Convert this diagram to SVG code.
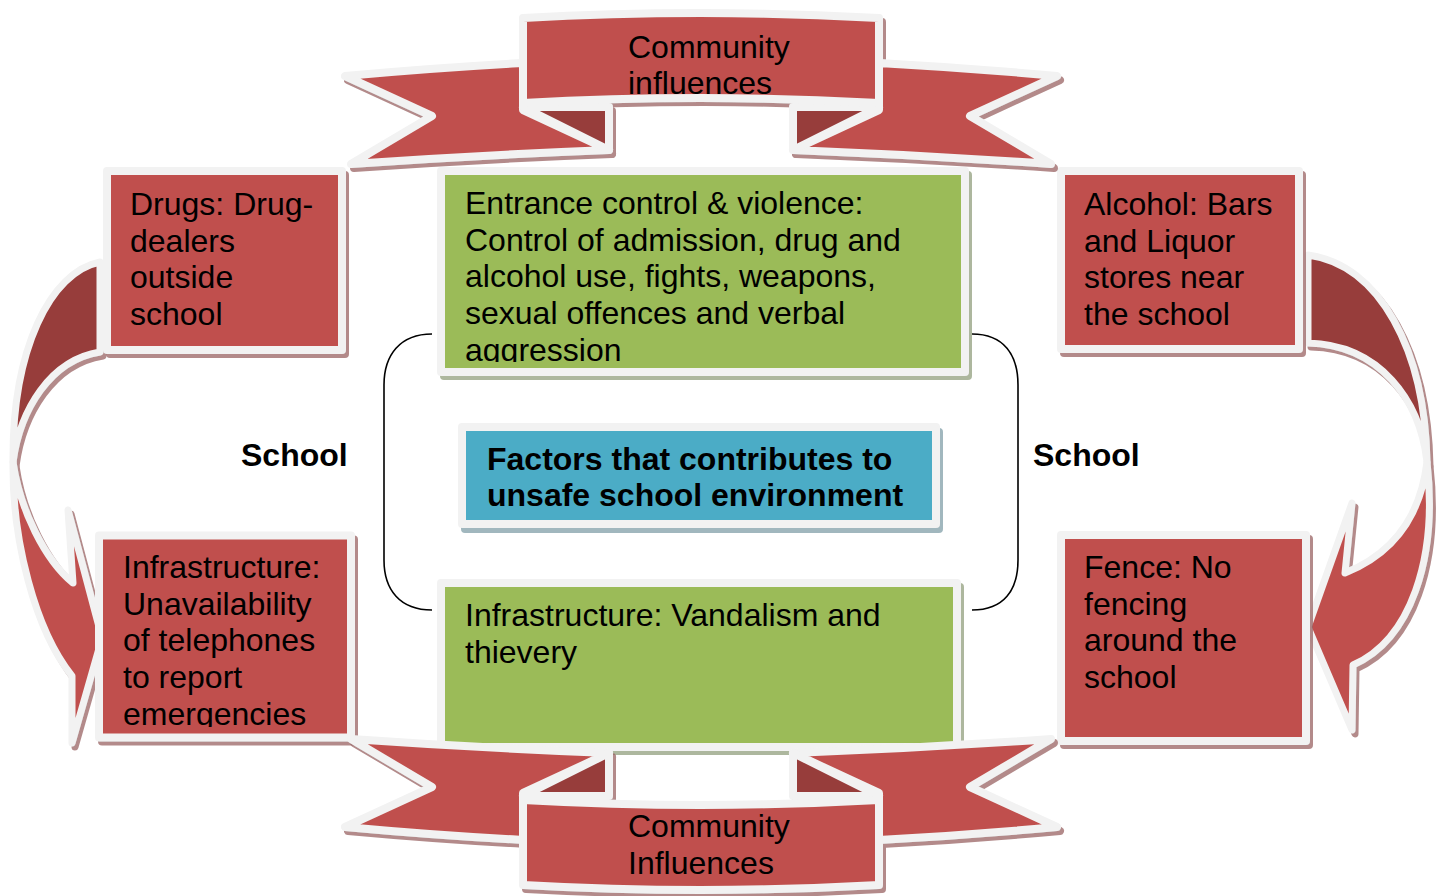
<svg xmlns="http://www.w3.org/2000/svg" xmlns:xlink="http://www.w3.org/1999/xlink" width="1443" height="896" viewBox="0 0 1443 896">
<style>
 .t{font-family:"Liberation Sans",Arial,sans-serif;font-size:32px;fill:#000}
 .b{font-weight:bold}
 .red{fill:#C0504D}
 .dark{fill:#973C3A}
 .green{fill:#9BBB59}
 .blue{fill:#4BACC6}
 .frame{stroke:#F2F2F2;stroke-width:8;stroke-linejoin:round}
 .aframe{stroke:#F2F2F2;stroke-width:7;stroke-linejoin:round}
 .br{fill:none;stroke:#000;stroke-width:1.6}
</style>
<defs>
 <filter id="shR" x="-10%" y="-10%" width="130%" height="130%"><feDropShadow dx="3" dy="4" stdDeviation="0.6" flood-color="#9A6363" flood-opacity="0.75"/></filter>
 <filter id="shG" x="-10%" y="-10%" width="130%" height="130%"><feDropShadow dx="3" dy="4" stdDeviation="0.6" flood-color="#98A585" flood-opacity="0.8"/></filter>
 <filter id="shB" x="-10%" y="-10%" width="130%" height="130%"><feDropShadow dx="3" dy="5" stdDeviation="0.6" flood-color="#89A5AE" flood-opacity="0.8"/></filter>
 <clipPath id="clipEntr"><rect x="445" y="175" width="516" height="187"/></clipPath>
 <clipPath id="clipInfL"><rect x="103" y="539" width="244" height="188"/></clipPath>
 <g id="rib">
  <path class="red frame" d="M345,76 Q432,68 523,63 L523,110 L609,150 Q480,155 351,164 L432,116 Z"/>
  <path class="dark frame" d="M523,107 L609,107 L609,150 Z"/>
  <path class="red frame" d="M1057,76 Q970,68 879,63 L879,110 L793,150 Q922,155 1051,164 L970,116 Z"/>
  <path class="dark frame" d="M879,107 L793,107 L793,150 Z"/>
  <path class="red frame" d="M523,18 Q701,8 879,18 L879,103 Q701,93 523,103 Z"/>
 </g>
</defs>
<rect width="1443" height="896" fill="#fff"/>

<g id="connectors">
 <g filter="url(#shR)">
  <path class="dark aframe" d="M100,262 C50,272 12,350 13,462 C20,410 50,360 100,352 Z"/>
  <path class="red aframe" d="M13,462 C12,540 35,630 72,676 L72,743 L102,638 L68,510 L73,583 C45,560 20,510 13,462 Z"/>
  <path class="dark aframe" d="M1308,255 C1380,265 1425,350 1427,462 C1420,400 1380,345 1308,343 Z"/>
  <path class="red aframe" d="M1427,462 C1438,560 1410,640 1353,665 L1352,730 L1308,627 L1352,503 L1345,573 C1390,555 1420,520 1427,462 Z"/>
 </g>
 <path class="br" d="M432,334 C400,334 384,355 384,385 L384,560 C384,590 400,610 432,610"/>
 <path class="br" d="M972,334 C1004,334 1018,355 1018,385 L1018,560 C1018,590 1004,610 972,610"/>
</g>

<g id="school-left"><text class="t b" x="241" y="466">School</text></g>
<g id="school-right"><text class="t b" x="1033" y="466">School</text></g>

<g id="drugs">
 <rect class="red frame" x="107" y="171" width="235" height="179" filter="url(#shR)"/>
 <text class="t" x="130" y="215">Drugs: Drug-</text>
 <text class="t" x="130" y="251.7">dealers</text>
 <text class="t" x="130" y="288.4">outside</text>
 <text class="t" x="130" y="325.1">school</text>
</g>

<g id="alcohol">
 <rect class="red frame" x="1061" y="171" width="238" height="178" filter="url(#shR)"/>
 <text class="t" x="1084" y="215">Alcohol: Bars</text>
 <text class="t" x="1084" y="251.7">and Liquor</text>
 <text class="t" x="1084" y="288.4">stores near</text>
 <text class="t" x="1084" y="325.1">the school</text>
</g>

<g id="fence">
 <rect class="red frame" x="1061" y="535" width="245" height="206" filter="url(#shR)"/>
 <text class="t" x="1084" y="578">Fence: No</text>
 <text class="t" x="1084" y="614.7">fencing</text>
 <text class="t" x="1084" y="651.4">around the</text>
 <text class="t" x="1084" y="688.1">school</text>
</g>

<g id="infra-left">
 <rect class="red frame" x="99" y="535.5" width="252" height="202" filter="url(#shR)"/>
 <g clip-path="url(#clipInfL)">
  <text class="t" x="123" y="578">Infrastructure:</text>
  <text class="t" x="123" y="614.7">Unavailability</text>
  <text class="t" x="123" y="651.4">of telephones</text>
  <text class="t" x="123" y="688.1">to report</text>
  <text class="t" x="123" y="724.8">emergencies</text>
 </g>
</g>

<g id="entrance">
 <rect class="green frame" x="441" y="171" width="524" height="201" filter="url(#shG)"/>
 <g clip-path="url(#clipEntr)">
  <text class="t" x="465" y="214">Entrance control &amp; violence:</text>
  <text class="t" x="465" y="250.7">Control of admission, drug and</text>
  <text class="t" x="465" y="287.4">alcohol use, fights, weapons,</text>
  <text class="t" x="465" y="324.1">sexual offences and verbal</text>
  <text class="t" x="465" y="360.8">aggression</text>
 </g>
</g>

<g id="infra-center">
 <rect class="green frame" x="441" y="583" width="516" height="164" filter="url(#shG)"/>
 <text class="t" x="465" y="626">Infrastructure: Vandalism and</text>
 <text class="t" x="465" y="662.7">thievery</text>
</g>

<g id="factors">
 <rect class="blue frame" x="462" y="427" width="474" height="97" filter="url(#shB)"/>
 <text class="t b" x="487" y="470">Factors that contributes to</text>
 <text class="t b" x="487" y="506">unsafe school environment</text>
</g>

<g id="community-top">
 <g filter="url(#shR)"><use xlink:href="#rib"/></g>
 <text class="t" x="628" y="58">Community</text>
 <text class="t" x="628" y="94">influences</text>
</g>

<g id="community-bottom">
 <g filter="url(#shR)"><use xlink:href="#rib" transform="matrix(1 0 0 -1 0 903)"/></g>
 <text class="t" x="628" y="837">Community</text>
 <text class="t" x="628" y="874">Influences</text>
</g>
</svg>
